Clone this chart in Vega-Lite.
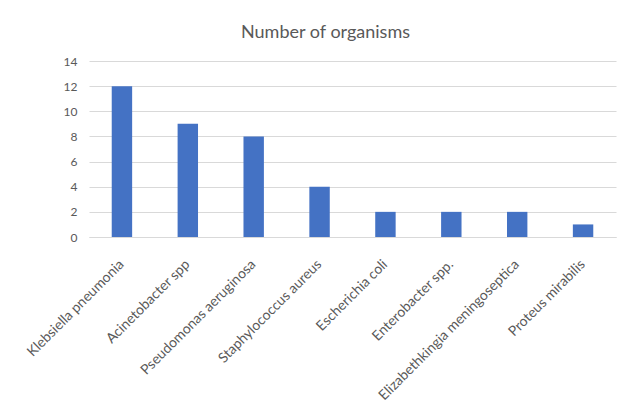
{
  "$schema": "https://vega.github.io/schema/vega-lite/v6.json",
  "autosize": {"type": "none"},
  "width": 527,
  "height": 176,
  "padding": {"left": 89, "top": 61, "right": 12, "bottom": 177},
  "background": "white",
  "title": {"text": "Number of organisms", "font": "Lato", "fontSize": 18, "fontWeight": "normal", "color": "#595959", "anchor": "middle", "offset": 13, "dx": -27},
  "data": {"values": [
    {"organism": "Klebsiella pneumonia", "count": 12},
    {"organism": "Acinetobacter spp", "count": 9},
    {"organism": "Pseudomonas aeruginosa", "count": 8},
    {"organism": "Staphylococcus aureus", "count": 4},
    {"organism": "Escherichia coli", "count": 2},
    {"organism": "Enterobacter spp.", "count": 2},
    {"organism": "Elizabethkingia meningoseptica", "count": 2},
    {"organism": "Proteus mirabilis", "count": 1}
  ]},
  "mark": {"type": "bar", "color": "#4472C4"},
  "encoding": {
    "x": {"field": "organism", "type": "nominal", "sort": null, "title": null,
      "scale": {"paddingInner": 0.69, "paddingOuter": 0.345},
      "axis": {"labelAngle": -45, "labelFont": "Lato", "labelFontSize": 14, "labelColor": "#595959", "ticks": false, "domainColor": "#d9d9d9", "labelPadding": 20, "labelOffset": -5, "labelLimit": 300}},
    "y": {"field": "count", "type": "quantitative", "title": null,
      "scale": {"domain": [0, 14]},
      "axis": {"values": [0, 2, 4, 6, 8, 10, 12, 14], "labelFont": "Lato", "labelFontSize": 12, "labelColor": "#595959", "ticks": false, "domain": false, "gridColor": "#d9d9d9", "labelPadding": 12}}
  },
  "config": {"view": {"stroke": null}}
}
